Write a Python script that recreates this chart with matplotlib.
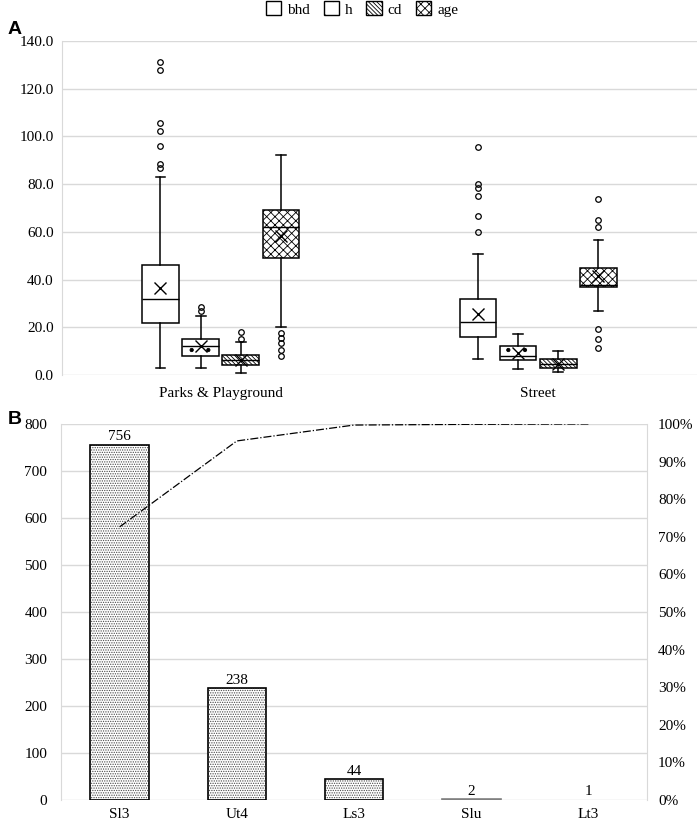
import numpy as np
import matplotlib
matplotlib.use("Agg")
import matplotlib.pyplot as plt
from matplotlib.patches import Patch
from matplotlib.ticker import MultipleLocator, FormatStrFormatter, PercentFormatter

# panel A: box plots
groups = ["Parks & Playground", "Street"]
variables = ["bhd", "h", "cd", "age"]
hatches = ["", ".", "\\\\\\\\\\\\\\\\", "xxxx"]

whislo = [[3.0, 3.0, 0.9, 20.0], [6.5, 2.3, 1.2, 26.7]]
q1 = [[21.7, 8.1, 4.2, 49.0], [16.0, 6.1, 3.0, 36.7]]
med = [[32.0, 12.0, 6.2, 62.0], [22.1, 7.9, 4.4, 37.8]]
q3 = [[46.3, 15.2, 8.2, 69.0], [31.7, 12.3, 6.5, 45.0]]
whishi = [[82.8, 24.8, 14.0, 92.2], [50.8, 17.2, 10.2, 56.7]]
means = [[36.5, 12.0, 6.4, 58.3], [25.5, 9.2, 4.8, 41.6]]
fliers = [
    [[86.6, 88.3, 95.8, 102.2, 105.6, 127.8, 131.2], [26.8, 28.6], [15.2, 18.2],
     [7.8, 10.6, 13.4, 15.4, 17.5]],
    [[60.1, 66.8, 75.0, 78.2, 80.0, 95.7], [], [], [11.2, 15.1, 19.2, 62.2, 64.8, 73.9]],
]

# panel B: soil classes
soils = ["Sl3", "Ut4", "Ls3", "Slu", "Lt3"]
counts = [756, 238, 44, 2, 1]

plt.rcParams['font.family'] = ['Liberation Serif', 'DejaVu Serif']
plt.rcParams['hatch.linewidth'] = 0.6
grid_col = '#d9d9d9'

fig = plt.figure(figsize=(6.99, 8.25), dpi=100)
ax1 = fig.add_axes([0.0887, 0.5455, 0.9083, 0.4048])
ax2 = fig.add_axes([0.0873, 0.0303, 0.8383, 0.4558])

step = 0.1266
for vi, var in enumerate(variables):
    stats = []
    pos = []
    for gi in range(len(groups)):
        stats.append(dict(whislo=whislo[gi][vi], q1=q1[gi][vi], med=med[gi][vi],
                          q3=q3[gi][vi], whishi=whishi[gi][vi], mean=means[gi][vi],
                          fliers=fliers[gi][vi]))
        pos.append(gi + (vi - 1.5) * step)
    ax1.bxp(stats, positions=pos, widths=0.1156, capwidths=0.031,
            showmeans=True, patch_artist=True, manage_ticks=False,
            boxprops=dict(facecolor='white', edgecolor='black', hatch=hatches[vi], linewidth=1.1),
            medianprops=dict(color='black', linewidth=1.0),
            whiskerprops=dict(color='black', linewidth=1.1),
            capprops=dict(color='black', linewidth=1.1),
            meanprops=dict(marker='x', markeredgecolor='black', markersize=8, markeredgewidth=1.0),
            flierprops=dict(marker='o', markerfacecolor='none', markeredgecolor='black',
                            markersize=4, markeredgewidth=0.9))

ax1.set_xlim(-0.5, 1.5)
ax1.set_ylim(0, 140)
ax1.set_xticks(range(len(groups)))
ax1.set_xticklabels(groups)
ax1.yaxis.set_major_locator(MultipleLocator(20))
ax1.yaxis.set_major_formatter(FormatStrFormatter('%.1f'))
ax1.grid(axis='y', color=grid_col, linewidth=1)
ax1.set_axisbelow(True)
ax1.tick_params(length=0, labelsize=11)
ax1.tick_params(axis='y', pad=6)
ax1.tick_params(axis='x', pad=9)
for s in ['top', 'right', 'bottom']:
    ax1.spines[s].set_visible(False)
ax1.spines['left'].set_color(grid_col)

handles = [Patch(facecolor='white', edgecolor='black', hatch=h, label=v)
           for h, v in zip(hatches, variables)]
fig.legend(handles=handles, loc='center', bbox_to_anchor=(362 / 699, 1 - 9 / 825), ncol=4,
           frameon=False, handlelength=1.0, handleheight=1.0, columnspacing=0.9,
           handletextpad=0.4, fontsize=11)

# panel B
x = np.arange(len(soils))
ax2.bar(x, counts, width=0.5, color='white', edgecolor='#4a4a4a', hatch='.......', linewidth=0)
bars = ax2.bar(x, counts, width=0.5, fill=False,
               edgecolor=['black', 'black', 'black', '#808080', 'none'], linewidth=1.2)
ax2.bar_label(bars, padding=1, fontsize=11)
ax2.set_xlim(-0.5, len(soils) - 0.5)
ax2.set_ylim(0, 800)
ax2.yaxis.set_major_locator(MultipleLocator(100))
ax2.set_xticks(x)
ax2.set_xticklabels(soils)
ax2.grid(axis='y', color=grid_col, linewidth=1)
ax2.set_axisbelow(True)
ax2.tick_params(length=0, labelsize=11)
ax2.tick_params(axis='y', pad=10)
ax2.tick_params(axis='x', pad=6)
for s in ['top', 'bottom']:
    ax2.spines[s].set_visible(False)
ax2.spines['left'].set_color(grid_col)
ax2.spines['right'].set_color(grid_col)

ax3 = ax2.twinx()
cum = np.cumsum(counts) / np.sum(counts)
ax3.plot(x, cum, color='black', linestyle='-.', linewidth=0.9)
ax3.set_ylim(0, 1)
ax3.yaxis.set_major_locator(MultipleLocator(0.1))
ax3.yaxis.set_major_formatter(PercentFormatter(1.0, decimals=0))
ax3.tick_params(length=0, labelsize=11, pad=8)
for s in ax3.spines.values():
    s.set_visible(False)

fig.text(15 / 699, 1 - 30 / 825, 'A', fontfamily='Liberation Sans', fontweight='bold',
         fontsize=14, ha='center', va='center')
fig.text(15 / 699, 1 - 420 / 825, 'B', fontfamily='Liberation Sans', fontweight='bold',
         fontsize=14, ha='center', va='center')

fig.savefig('out.png', dpi=100)
